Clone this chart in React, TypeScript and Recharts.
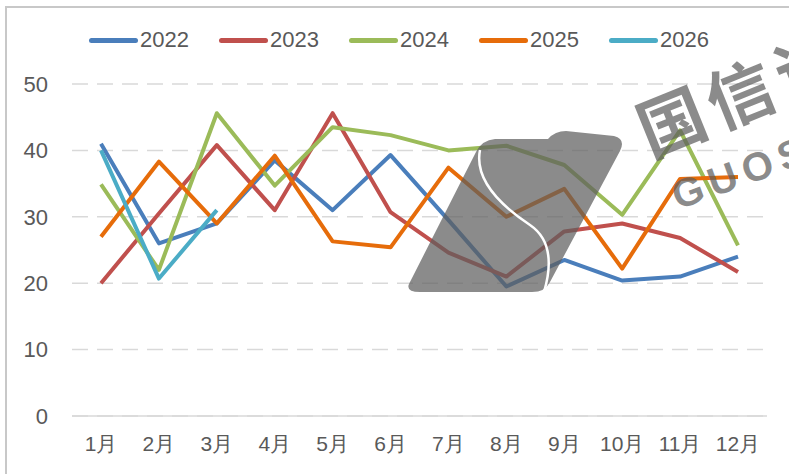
import React from "react";
import { LineChart, Line, XAxis, YAxis, CartesianGrid } from "recharts";

const months = ["1月", "2月", "3月", "4月", "5月", "6月", "7月", "8月", "9月", "10月", "11月", "12月"];
const yTicks = [0, 10, 20, 30, 40, 50];

const v2022 = [41.0, 26.0, 29.0, 38.5, 31.0, 39.3, 29.5, 19.5, 23.5, 20.4, 21.0, 24.0];
const v2023 = [20.0, 30.5, 40.8, 31.0, 45.6, 30.7, 24.6, 21.0, 27.8, 29.0, 26.8, 21.7];
const v2024 = [34.9, 22.0, 45.6, 34.7, 43.5, 42.3, 40.0, 40.7, 37.8, 30.3, 43.0, 25.7];
const v2025 = [27.0, 38.3, 29.0, 39.2, 26.3, 25.4, 37.4, 30.0, 34.2, 22.2, 35.7, 36.0];
const v2026 = [40.0, 20.7, 31.0];

const seriesNames = ["2022", "2023", "2024", "2025", "2026"];
const seriesValues = [v2022, v2023, v2024, v2025, v2026];
const seriesColors = ["#4a7ebb", "#c0504d", "#9bbb59", "#e66c0a", "#4bacc6"];

const data = months.map((m, i) => {
  const row: Record<string, string | number | undefined> = { month: m };
  seriesNames.forEach((n, k) => {
    row[n] = seriesValues[k][i];
  });
  return row;
});

const font = "'Liberation Sans', Arial, sans-serif";
const textColor = "#595959";
const markGray = "#5e5e5e";

function TopLegend() {
  return (
    <div style={{ position: "absolute", left: 89, top: 29, display: "flex", fontFamily: font }}>
      {seriesNames.map((n, k) => (
        <div key={n} style={{ display: "flex", alignItems: "center", width: 130 }}>
          <div style={{ width: 49, height: 5, borderRadius: 3, background: seriesColors[k] }} />
          <span style={{ fontSize: 22, color: textColor, marginLeft: 2, lineHeight: "22px" }}>{n}</span>
        </div>
      ))}
    </div>
  );
}

function Watermark() {
  return (
    <svg width={789} height={474} style={{ position: "absolute", left: 0, top: 0, pointerEvents: "none" }}>
      <path
        d="M410 282 L476 152 Q482 140 495 139 L548 139 Q555 131 566 131 L614 136 Q626 139 620 151 L550 282 Q545 292 532 292 L420 292 Q404 292 410 282 Z"
        fill={markGray}
        fillOpacity={0.72}
      />
      <path d="M480 150 C474 180 500 205 530 225 C552 240 552 265 544 292" fill="none" stroke="#fff" strokeWidth={2.5} />
      <text
        x={650}
        y={158}
        transform="rotate(-22 650 158)"
        fontFamily="'Noto Sans CJK SC', sans-serif"
        fontWeight={700}
        fontSize={67}
        letterSpacing={7}
        fill={markGray}
        fillOpacity={0.72}
      >
        国信证
      </text>
      <text
        x={678}
        y={210}
        transform="rotate(-20 678 210)"
        fontFamily="'Liberation Sans', Arial, sans-serif"
        fontWeight={700}
        fontSize={40}
        letterSpacing={7}
        fill={markGray}
        fillOpacity={0.72}
      >
        GUOS
      </text>
    </svg>
  );
}

export default function App() {
  return (
    <div style={{ position: "fixed", left: 0, top: 0, width: 789, height: 474, background: "#fff", overflow: "hidden" }}>
      <div
        style={{
          position: "absolute",
          left: 5,
          top: 6,
          width: 800,
          height: 480,
          borderTop: "2px solid #c8c8c8",
          borderLeft: "2px solid #c8c8c8",
        }}
      />
      <LineChart
        width={789}
        height={474}
        data={data}
        margin={{ top: 84, right: 22, bottom: 0, left: 0 }}
        style={{ position: "absolute", left: 0, top: 0 }}
      >
        <CartesianGrid vertical={false} stroke="#d9d9d9" strokeWidth={1.5} strokeDasharray="16 9" />
        <XAxis
          dataKey="month"
          height={58}
          padding={{ left: 29, right: 29 }}
          axisLine={{ stroke: "#d9d9d9", strokeWidth: 1.5 }}
          tickLine={false}
          tickMargin={14}
          tick={{ fill: textColor, fontSize: 21, fontFamily: font }}
          interval={0}
        />
        <YAxis
          width={72}
          domain={[0, 50]}
          ticks={yTicks}
          axisLine={false}
          tickLine={false}
          tickMargin={18}
          tick={{ fill: textColor, fontSize: 22, fontFamily: font }}
        />
        {seriesNames.map((n, k) => (
          <Line
            key={n}
            type="linear"
            dataKey={n}
            stroke={seriesColors[k]}
            strokeWidth={4}
            strokeLinejoin="round"
            dot={false}
            activeDot={false}
            isAnimationActive={false}
          />
        ))}
      </LineChart>
      <TopLegend />
      <Watermark />
    </div>
  );
}
